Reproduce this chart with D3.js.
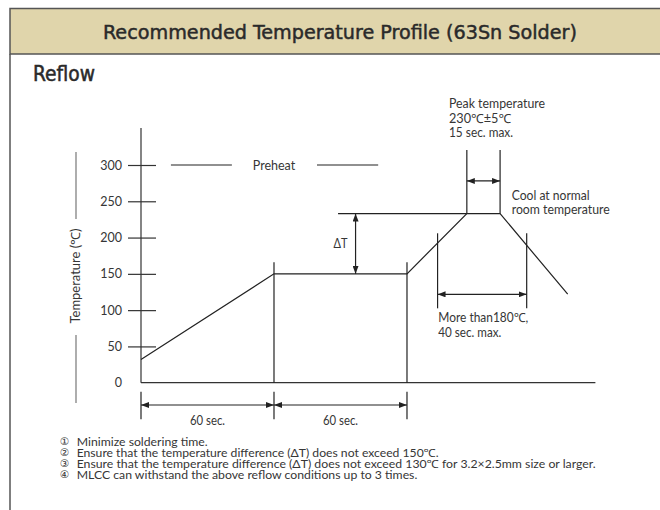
<!DOCTYPE html>
<html>
<head>
<meta charset="utf-8">
<script src="https://cdn.jsdelivr.net/npm/d3@7"></script>
<style>
  body { margin: 0; background: #fff; }
  text { font-family: Lato, "Noto Sans", "Noto Sans CJK JP", sans-serif; fill: #363636; }
</style>
</head>
<body>
<div class="canvas"></div>
<script>
const title = "Recommended Temperature Profile (63Sn Solder)"
const subtitle = "Reflow"

// profile: time (sec) vs temperature (℃)
const profileTime = [0, 60, 120, 147, 162, 192.5]
const profileTemp = [32, 150, 150, 233, 233, 122]

const tempTicks = [0, 50, 100, 150, 200, 250, 300]
const phaseTimes = [0, 60, 120]
const phaseLabels = ["60 sec.", "60 sec."]

const notes = [
  "Minimize soldering time.",
  "Ensure that the temperature difference (ΔT) does not exceed 150℃.",
  "Ensure that the temperature difference (ΔT) does not exceed 130℃ for 3.2×2.5mm size or larger.",
  "MLCC can withstand the above reflow conditions up to 3 times."
]
const noteMarks = ["①", "②", "③", "④"]

const svg = d3.select(".canvas")
  .append('svg')
    .attr('width', 660)
    .attr('height', 510)

const x = d3.scaleLinear()
  .domain([0, 205])
  .range([141, 595.4])

const y = d3.scaleLinear()
  .domain([0, 300])
  .range([382.7, 165])

const ink = '#222'

// arrow head
svg.append('defs').append('marker')
  .attr('id', 'arrow')
  .attr('viewBox', '0 0 8 6')
  .attr('refX', 8)
  .attr('refY', 3)
  .attr('markerWidth', 8)
  .attr('markerHeight', 6)
  .attr('markerUnits', 'userSpaceOnUse')
  .attr('orient', 'auto-start-reverse')
  .append('path')
    .attr('d', 'M0,0L8,3L0,6Z')
    .attr('fill', ink)

// frame + title band
svg.append('rect')
  .attr('x', 10).attr('y', 8.5)
  .attr('width', 660).attr('height', 45.5)
  .attr('fill', '#e0d5ab')
  .attr('stroke', '#555').attr('stroke-width', 1.5)
svg.append('line')
  .attr('x1', 10).attr('x2', 10)
  .attr('y1', 54).attr('y2', 510)
  .attr('stroke', '#555').attr('stroke-width', 1.5)

svg.append('text')
  .attr('x', 340).attr('y', 39)
  .attr('text-anchor', 'middle')
  .attr('textLength', 474).attr('lengthAdjust', 'spacingAndGlyphs')
  .style('font-family', '"DejaVu Sans Condensed", "DejaVu Sans", sans-serif')
  .style('font-stretch', 'condensed')
  .style('font-size', '20px')
  .style('fill', '#2a2a2a')
  .style('stroke', '#2a2a2a')
  .style('stroke-width', 0.45)
  .text(title)

svg.append('text')
  .attr('x', 33).attr('y', 81)
  .attr('textLength', 62).attr('lengthAdjust', 'spacingAndGlyphs')
  .style('font-family', '"DejaVu Sans Condensed", "DejaVu Sans", sans-serif')
  .style('font-stretch', 'condensed')
  .style('font-size', '21px')
  .style('fill', '#2a2a2a')
  .style('stroke', '#2a2a2a')
  .style('stroke-width', 0.5)
  .text(subtitle)

// small helper for annotation text
const label = (txt, px, py, len, anchor = 'start') => svg.append('text')
  .attr('x', px).attr('y', py)
  .attr('text-anchor', anchor)
  .attr('textLength', len).attr('lengthAdjust', 'spacingAndGlyphs')
  .style('font-size', '12.5px')
  .text(txt)

const seg = (x1, y1, x2, y2, arrows = false, color = ink) => {
  const l = svg.append('line')
    .attr('x1', x1).attr('y1', y1)
    .attr('x2', x2).attr('y2', y2)
    .attr('stroke', color).attr('stroke-width', 1.2)
  if (arrows) l.attr('marker-start', 'url(#arrow)').attr('marker-end', 'url(#arrow)')
  return l
}

// axes
seg(x(0), y(0), x(0), y(351), false, '#333')
seg(x(0), y(0), x(205), y(0), false, '#333')

const yAxis = d3.axisLeft(y)
  .tickValues(tempTicks)
  .tickSize(13)
  .tickPadding(6)

const yAxisGroup = svg.append('g')
  .attr('transform', `translate(${x(0)}, 0)`)
  .call(yAxis)

yAxisGroup.select('.domain').remove()
yAxisGroup.selectAll('.tick line')
  .attr('x1', 15)
  .attr('stroke', '#333')
  .attr('stroke-width', 1.2)
yAxisGroup.selectAll('.tick').filter(d => d === 0).select('line').remove()
yAxisGroup.selectAll('text')
  .attr('font-family', null)
  .style('font-size', '12.5px')
  .style('fill', '#363636')

// y title with side bars
svg.append('text')
  .attr('transform', 'translate(80, 276) rotate(-90)')
  .attr('text-anchor', 'middle')
  .attr('textLength', 95).attr('lengthAdjust', 'spacingAndGlyphs')
  .style('font-size', '12.5px')
  .text('Temperature (℃)')
seg(76, 152, 76, 219, false, '#777')
seg(76, 335, 76, 403, false, '#777')

// preheat label
seg(x(13.5), y(300), x(41), y(300))
seg(x(79.4), y(300), x(107), y(300))
svg.append('text')
  .attr('x', x(60)).attr('y', y(300) + 4.5)
  .attr('text-anchor', 'middle')
  .style('font-size', '12.5px')
  .text('Preheat')

// phase boundaries
phaseTimes.slice(1).forEach(t => seg(x(t), y(166), x(t), y(0)))
phaseTimes.forEach(t => seg(x(t), y(0) + 9, x(t), y(0) + 36.5))
phaseLabels.forEach((lab, i) => {
  seg(x(phaseTimes[i]), y(0) + 22.3, x(phaseTimes[i + 1]), y(0) + 22.3, true)
  label(lab, x((phaseTimes[i] + phaseTimes[i + 1]) / 2), y(0) + 42.3, 35, 'middle')
})

// delta T
seg(x(88.9), y(profileTemp[3]), x(profileTime[3]), y(profileTemp[3]))
seg(x(96.8), y(profileTemp[3]), x(96.8), y(profileTemp[1]), true)
label('ΔT', x(96.8) - 8, y(192) + 4.5, 14, 'end')

// peak window
;[profileTime[3], profileTime[4]].forEach(t => seg(x(t), y(profileTemp[3]), x(t), y(320.7)))
seg(x(profileTime[3]), y(278), x(profileTime[4]), y(278), true)
label('Peak temperature', 449, 107.5, 96)
label('230℃±5℃', 449, 122.5, 62)
label('15 sec. max.', 449, 137, 64)

// above 180 window
;[133.8, 174].forEach(t => seg(x(t), y(205.9), x(t), y(102.5)))
seg(x(133.8), y(121.8), x(174), y(121.8), true)
label('More than180℃,', 438.3, 322, 90)
label('40 sec. max.', 438.3, 337, 63)

label('Cool at normal', 511.7, 199.5, 78)
label('room temperature', 511.7, 214, 98)

// the profile itself
const line = d3.line()
  .x((d, i) => x(profileTime[i]))
  .y(d => y(d))

svg.append('path')
  .attr('d', line(profileTemp))
  .attr('fill', 'none')
  .attr('stroke', ink)
  .attr('stroke-width', 1.2)

// notes
const noteLens = [131, 362, 519, 340.6]
notes.forEach((n, i) => {
  const ny = 445.5 + i * 11
  svg.append('text')
    .attr('x', 60).attr('y', ny - 0.3)
    .style('font-size', '10.5px')
    .style('font-family', '"DejaVu Sans", sans-serif')
    .text(noteMarks[i])
  svg.append('text')
    .attr('x', 76.7).attr('y', ny)
    .attr('textLength', noteLens[i]).attr('lengthAdjust', 'spacingAndGlyphs')
    .style('font-size', '11.2px')
    .text(n)
})
</script>
</body>
</html>
